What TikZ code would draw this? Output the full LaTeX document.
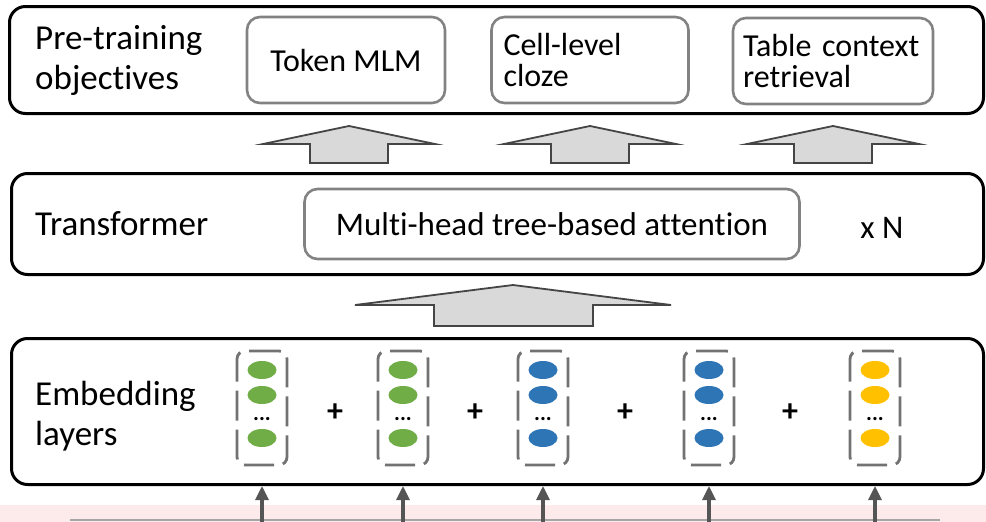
\documentclass[tikz,border=0pt]{standalone}
\usepackage{fontspec}
\setmainfont{Carlito}[Ligatures=NoCommon]
\usetikzlibrary{arrows.meta,positioning}
\definecolor{boxgray}{HTML}{828282}
\definecolor{arrowgray}{HTML}{454545}
\definecolor{arrowfill}{HTML}{D9D9D9}
\definecolor{bracketgray}{HTML}{727272}
\definecolor{arrowdark}{HTML}{555555}
\definecolor{embgreen}{HTML}{70AD47}
\definecolor{embblue}{HTML}{2E75B6}
\definecolor{embyellow}{HTML}{FFC000}
\definecolor{stripink}{HTML}{FDEAEA}
\tikzset{
  layer/.style={draw=black, line width=3pt, rounded corners=16pt, anchor=north west},
  layertext/.style={font=\fontsize{35}{40}\selectfont, align=left, anchor=west, inner sep=0pt},
  subbox/.style={draw=boxgray, line width=2.6pt, rounded corners=13pt,
    font=\fontsize{32}{31}\selectfont, minimum height=86pt},
  fatarrow/.style={draw=arrowgray, fill=arrowfill, line width=1.8pt},
  vecbox/.style={draw=bracketgray, line width=2.8pt, rounded corners=8pt,
    dash pattern=on 30pt off 9pt, minimum width=50pt, minimum height=114pt},
  inarrow/.style={draw=arrowdark, line width=3.2pt, -{Triangle[length=14pt,width=13pt]}}
}
\begin{document}
\begin{tikzpicture}[x=1pt,y=-1pt]
\useasboundingbox (0,0) rectangle (986,522);
% strip at the bottom edge
\fill[stripink] (0,505) rectangle (986,522);
\draw[gray!70, line width=1.5pt] (70,520) -- (940,520);
% three layers
\node[layer, minimum width=974pt, minimum height=107pt] (obj) at (8,5) {};
\node[layer, minimum width=972pt, minimum height=101pt] (trans) at (10,172) {};
\node[layer, minimum width=972pt, minimum height=146pt] (emb) at (10,337) {};
\node[layertext] (objlabel) at (35,60) {Pre-training\\objectives};
\node[layertext] (translabel) at (35,224) {Transformer};
\node[layertext] (emblabel) at (35,416) {Embedding\\layers};
% objectives
\node[subbox, minimum width=198pt] (mlm) at (346,60) {Token MLM};
\node[subbox, text width=173pt, inner xsep=12pt, align=left] (cloze) at (590,60) {Cell-level\\cloze};
\node[subbox, text width=180pt, inner xsep=10pt, align=left] (retrieval) at (833,61) {\mbox{Table context}\\retrieval};
% transformer
\node[subbox, minimum width=495pt, minimum height=70pt, font=\fontsize{33}{33}\selectfont] (attn) at (552,224) {Multi-head tree-based attention};
\node[font=\fontsize{33}{33}\selectfont] (times) at (882,228) {x N};
% fat arrows
\foreach \c in {349,590,833}
  \draw[fatarrow] (\c-86,144) -- (\c,126) -- (\c+86,144) -- (\c+39,144) -- (\c+39,163)
    -- (\c-39,163) -- (\c-39,144) -- cycle;
\draw[fatarrow] (355,305) -- (513,285) -- (671,305) -- (593,305) -- (593,326)
  -- (434,326) -- (434,305) -- cycle;
% embedding vectors
\foreach \x/\col [count=\i] in {262/embgreen,403/embgreen,543/embblue,709/embblue,875/embyellow} {
  \node[vecbox] (v\i) at (\x,408) {};
  \foreach \y in {370,395,438}
    \fill[\col] (\x,\y) ellipse (14.5pt and 9pt);
  \node[font=\bfseries\fontsize{22}{22}\selectfont, inner sep=0pt] (dots\i) at (\x,419) {...};
  \coordinate (in\i) at (\x,522);
  \draw[inarrow] (in\i) -- (in\i |- emb.south);
}
\foreach \x [count=\i] in {335,475,625,790}
  \node[font=\bfseries\fontsize{32}{32}\selectfont, inner sep=0pt] (plus\i) at (\x,413) {+};
\end{tikzpicture}
\end{document}
